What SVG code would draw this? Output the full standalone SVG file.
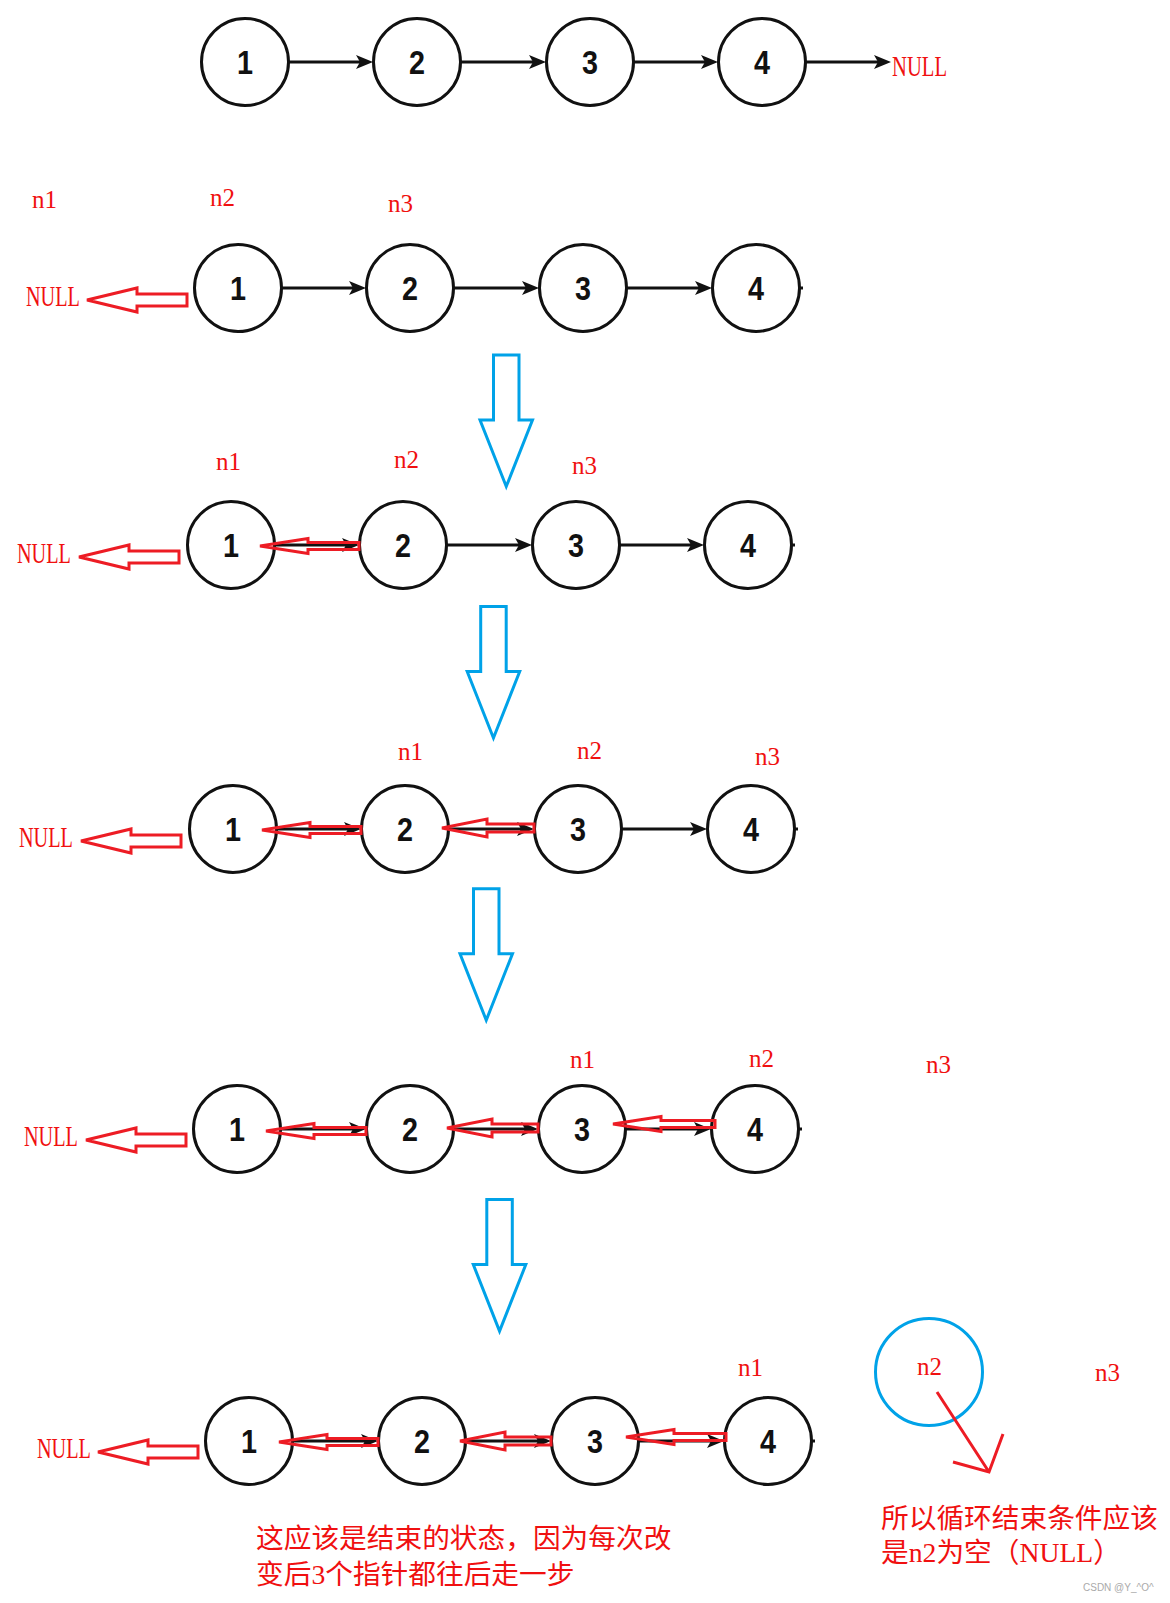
<svg xmlns="http://www.w3.org/2000/svg" xmlns:xlink="http://www.w3.org/1999/xlink" width="1170" height="1603" viewBox="0 0 1170 1603">
<style>
.node circle{fill:#fff;stroke:#111;stroke-width:3}
.num{font-family:"Liberation Sans",Arial,sans-serif;font-weight:bold;font-size:33px;fill:#111;text-anchor:middle}
.lbl{font-family:"Liberation Serif","Times New Roman",serif;font-size:25px;fill:#f01010}
.nul{font-family:"Liberation Serif","Times New Roman",serif;font-size:29px;fill:#f01010}
.link{stroke:#111;stroke-width:3;fill:none}
.red{stroke:#ed1c24;stroke-width:3;fill:none;stroke-linejoin:miter}
.blue{stroke:#00a2e8;stroke-width:3;fill:none}
.cjk{font-family:"Liberation Serif","Noto Sans CJK SC",serif;font-size:27.7px;fill:#f01010}
</style>
<defs>
<marker id="ah" markerWidth="18" markerHeight="16" refX="7" refY="8" orient="auto" markerUnits="userSpaceOnUse">
<path d="M0,1 L17,8 L0,15 L4,8 Z" fill="#111"/>
</marker>
<path id="nullArr" d="M0,0 L50,-12 L50,-6 L100,-6 L100,6 L50,6 L50,12 Z"/>
<path id="down" d="M0,0 H25.5 V65 H39 L12.75,131.5 L-13.5,65 H0 Z"/>
</defs>
<rect width="1170" height="1603" fill="#fff"/>

<!-- black connectors -->
<g id="connectors">
<line class="link" x1="289" y1="62" x2="363" y2="62" marker-end="url(#ah)"/>
<line class="link" x1="461" y1="62" x2="536" y2="62" marker-end="url(#ah)"/>
<line class="link" x1="634" y1="62" x2="708" y2="62" marker-end="url(#ah)"/>
<line class="link" x1="806" y1="62" x2="881" y2="62" marker-end="url(#ah)"/>

<line class="link" x1="282" y1="288" x2="356" y2="288" marker-end="url(#ah)"/>
<line class="link" x1="454" y1="288" x2="529" y2="288" marker-end="url(#ah)"/>
<line class="link" x1="627" y1="288" x2="702" y2="288" marker-end="url(#ah)"/>
<line class="link" x1="800" y1="288" x2="803" y2="288"/>

<line class="link" x1="275" y1="545" x2="349" y2="545" marker-end="url(#ah)"/>
<line class="link" x1="447" y1="545" x2="522" y2="545" marker-end="url(#ah)"/>
<line class="link" x1="620" y1="545" x2="694" y2="545" marker-end="url(#ah)"/>
<line class="link" x1="792" y1="545" x2="795" y2="545"/>

<line class="link" x1="277" y1="829" x2="351" y2="829" marker-end="url(#ah)"/>
<line class="link" x1="449" y1="829" x2="524" y2="829" marker-end="url(#ah)"/>
<line class="link" x1="622" y1="829" x2="697" y2="829" marker-end="url(#ah)"/>
<line class="link" x1="795" y1="829" x2="798" y2="829"/>

<line class="link" x1="281" y1="1129" x2="356" y2="1129" marker-end="url(#ah)"/>
<line class="link" x1="454" y1="1129" x2="528" y2="1129" marker-end="url(#ah)"/>
<line class="link" x1="626" y1="1129" x2="701" y2="1129" marker-end="url(#ah)"/>
<line class="link" x1="799" y1="1129" x2="802" y2="1129"/>

<line class="link" x1="293" y1="1441" x2="368" y2="1441" marker-end="url(#ah)"/>
<line class="link" x1="466" y1="1441" x2="541" y2="1441" marker-end="url(#ah)"/>
<line class="link" x1="639" y1="1441" x2="714" y2="1441" marker-end="url(#ah)"/>
<line class="link" x1="812" y1="1441" x2="815" y2="1441"/>
</g>

<!-- row 0 -->
<g id="r0-n1" class="node"><circle cx="245" cy="62" r="43.5"/><text class="num" x="245" y="74" textLength="16" lengthAdjust="spacingAndGlyphs">1</text></g>
<g id="r0-n2" class="node"><circle cx="417" cy="62" r="43.5"/><text class="num" x="417" y="74" textLength="16" lengthAdjust="spacingAndGlyphs">2</text></g>
<g id="r0-n3" class="node"><circle cx="590" cy="62" r="43.5"/><text class="num" x="590" y="74" textLength="16" lengthAdjust="spacingAndGlyphs">3</text></g>
<g id="r0-n4" class="node"><circle cx="762" cy="62" r="43.5"/><text class="num" x="762" y="74" textLength="16" lengthAdjust="spacingAndGlyphs">4</text></g>
<g id="r0-null"><text class="nul" x="892" y="76" textLength="55" lengthAdjust="spacingAndGlyphs">NULL</text></g>

<!-- row 1 -->
<g id="r1-n1" class="node"><circle cx="238" cy="288" r="43.5"/><text class="num" x="238" y="300" textLength="16" lengthAdjust="spacingAndGlyphs">1</text></g>
<g id="r1-n2" class="node"><circle cx="410" cy="288" r="43.5"/><text class="num" x="410" y="300" textLength="16" lengthAdjust="spacingAndGlyphs">2</text></g>
<g id="r1-n3" class="node"><circle cx="583" cy="288" r="43.5"/><text class="num" x="583" y="300" textLength="16" lengthAdjust="spacingAndGlyphs">3</text></g>
<g id="r1-n4" class="node"><circle cx="756" cy="288" r="43.5"/><text class="num" x="756" y="300" textLength="16" lengthAdjust="spacingAndGlyphs">4</text></g>
<g id="r1-null"><text class="nul" x="26" y="306" textLength="54" lengthAdjust="spacingAndGlyphs">NULL</text><use href="#nullArr" class="red" transform="translate(87,300)"/></g>
<g id="r1-labels"><text class="lbl" x="32" y="208">n1</text><text class="lbl" x="210" y="206">n2</text><text class="lbl" x="388" y="212">n3</text></g>

<g id="down1"><use href="#down" class="blue" transform="translate(493.5,355)"/></g>

<!-- row 2 -->
<g id="r2-n1" class="node"><circle cx="231" cy="545" r="43.5"/><text class="num" x="231" y="557" textLength="16" lengthAdjust="spacingAndGlyphs">1</text></g>
<g id="r2-n2" class="node"><circle cx="403" cy="545" r="43.5"/><text class="num" x="403" y="557" textLength="16" lengthAdjust="spacingAndGlyphs">2</text></g>
<g id="r2-n3" class="node"><circle cx="576" cy="545" r="43.5"/><text class="num" x="576" y="557" textLength="16" lengthAdjust="spacingAndGlyphs">3</text></g>
<g id="r2-n4" class="node"><circle cx="748" cy="545" r="43.5"/><text class="num" x="748" y="557" textLength="16" lengthAdjust="spacingAndGlyphs">4</text></g>
<g id="r2-null"><text class="nul" x="17" y="563" textLength="54" lengthAdjust="spacingAndGlyphs">NULL</text><use href="#nullArr" class="red" transform="translate(79,557)"/></g>
<g id="r2-labels"><text class="lbl" x="216" y="470">n1</text><text class="lbl" x="394" y="468">n2</text><text class="lbl" x="572" y="474">n3</text></g>
<g id="r2-rev"><path class="red" d="M260,546 L308,538.5 L308,542.5 L359,542.5 L359,549.5 L308,549.5 L308,553.5 Z"/></g>

<g id="down2"><use href="#down" class="blue" transform="translate(480.7,606.5)"/></g>

<!-- row 3 -->
<g id="r3-n1" class="node"><circle cx="233" cy="829" r="43.5"/><text class="num" x="233" y="841" textLength="16" lengthAdjust="spacingAndGlyphs">1</text></g>
<g id="r3-n2" class="node"><circle cx="405" cy="829" r="43.5"/><text class="num" x="405" y="841" textLength="16" lengthAdjust="spacingAndGlyphs">2</text></g>
<g id="r3-n3" class="node"><circle cx="578" cy="829" r="43.5"/><text class="num" x="578" y="841" textLength="16" lengthAdjust="spacingAndGlyphs">3</text></g>
<g id="r3-n4" class="node"><circle cx="751" cy="829" r="43.5"/><text class="num" x="751" y="841" textLength="16" lengthAdjust="spacingAndGlyphs">4</text></g>
<g id="r3-null"><text class="nul" x="19" y="847" textLength="54" lengthAdjust="spacingAndGlyphs">NULL</text><use href="#nullArr" class="red" transform="translate(81,841)"/></g>
<g id="r3-labels"><text class="lbl" x="398" y="760">n1</text><text class="lbl" x="577" y="759">n2</text><text class="lbl" x="755" y="765">n3</text></g>
<g id="r3-rev">
<path class="red" d="M262,830 L310,822.5 L310,826.5 L361,826.5 L361,833.5 L310,833.5 L310,837.5 Z"/>
<path class="red" d="M442,828 L487,819 L487,824 L534,824 L534,832 L487,832 L487,837 Z"/>
</g>

<g id="down3"><use href="#down" class="blue" transform="translate(473.5,888.7)"/></g>

<!-- row 4 -->
<g id="r4-n1" class="node"><circle cx="237" cy="1129" r="43.5"/><text class="num" x="237" y="1141" textLength="16" lengthAdjust="spacingAndGlyphs">1</text></g>
<g id="r4-n2" class="node"><circle cx="410" cy="1129" r="43.5"/><text class="num" x="410" y="1141" textLength="16" lengthAdjust="spacingAndGlyphs">2</text></g>
<g id="r4-n3" class="node"><circle cx="582" cy="1129" r="43.5"/><text class="num" x="582" y="1141" textLength="16" lengthAdjust="spacingAndGlyphs">3</text></g>
<g id="r4-n4" class="node"><circle cx="755" cy="1129" r="43.5"/><text class="num" x="755" y="1141" textLength="16" lengthAdjust="spacingAndGlyphs">4</text></g>
<g id="r4-null"><text class="nul" x="24" y="1146" textLength="54" lengthAdjust="spacingAndGlyphs">NULL</text><use href="#nullArr" class="red" transform="translate(86,1140)"/></g>
<g id="r4-labels"><text class="lbl" x="570" y="1068">n1</text><text class="lbl" x="749" y="1067">n2</text><text class="lbl" x="926" y="1073">n3</text></g>
<g id="r4-rev">
<path class="red" d="M266,1131 L314,1123.5 L314,1127.5 L366,1127.5 L366,1134.5 L314,1134.5 L314,1138.5 Z"/>
<path class="red" d="M447,1128 L492,1119 L492,1124 L538,1124 L538,1132 L492,1132 L492,1137 Z"/>
<path class="red" d="M613,1124 L661,1116.5 L661,1120.5 L715,1120.5 L715,1127.5 L661,1127.5 L661,1131.5 Z"/>
</g>

<g id="down4"><use href="#down" class="blue" transform="translate(486.8,1199.6)"/></g>

<!-- row 5 -->
<g id="r5-n1" class="node"><circle cx="249" cy="1441" r="43.5"/><text class="num" x="249" y="1453" textLength="16" lengthAdjust="spacingAndGlyphs">1</text></g>
<g id="r5-n2" class="node"><circle cx="422" cy="1441" r="43.5"/><text class="num" x="422" y="1453" textLength="16" lengthAdjust="spacingAndGlyphs">2</text></g>
<g id="r5-n3" class="node"><circle cx="595" cy="1441" r="43.5"/><text class="num" x="595" y="1453" textLength="16" lengthAdjust="spacingAndGlyphs">3</text></g>
<g id="r5-n4" class="node"><circle cx="768" cy="1441" r="43.5"/><text class="num" x="768" y="1453" textLength="16" lengthAdjust="spacingAndGlyphs">4</text></g>
<g id="r5-null"><text class="nul" x="37" y="1458" textLength="54" lengthAdjust="spacingAndGlyphs">NULL</text><use href="#nullArr" class="red" transform="translate(98,1452)"/></g>
<g id="r5-labels"><text class="lbl" x="738" y="1376">n1</text><text class="lbl" x="1095" y="1381">n3</text></g>
<g id="r5-rev">
<path class="red" d="M279,1442 L327,1434.5 L327,1438.5 L378,1438.5 L378,1445.5 L327,1445.5 L327,1449.5 Z"/>
<path class="red" d="M460,1441 L505,1432 L505,1437 L551,1437 L551,1445 L505,1445 L505,1450 Z"/>
<path class="red" d="M626,1437 L674,1429.5 L674,1433.5 L726,1433.5 L726,1440.5 L674,1440.5 L674,1444.5 Z"/>
</g>

<!-- n2 highlight -->
<g id="n2-mark">
<circle class="blue" cx="929" cy="1372" r="53.5"/>
<text class="lbl" x="917" y="1375">n2</text>
<path class="red" d="M937,1392 L989,1472 M1003,1434 L989,1472 L953,1462"/>
</g>

<!-- notes -->
<g id="note-left">
<text class="cjk" x="256" y="1548">这应该是结束的状态，因为每次改</text>
<text class="cjk" x="256" y="1584">变后3个指针都往后走一步</text>
</g>
<g id="note-right">
<text class="cjk" x="881" y="1528">所以循环结束条件应该</text>
<text class="cjk" x="881" y="1562">是n2为空（NULL）</text>
</g>
<text x="1083" y="1591" font-family="Liberation Sans, Arial, sans-serif" font-size="10" fill="#aaa">CSDN @Y_^O^</text>
</svg>
